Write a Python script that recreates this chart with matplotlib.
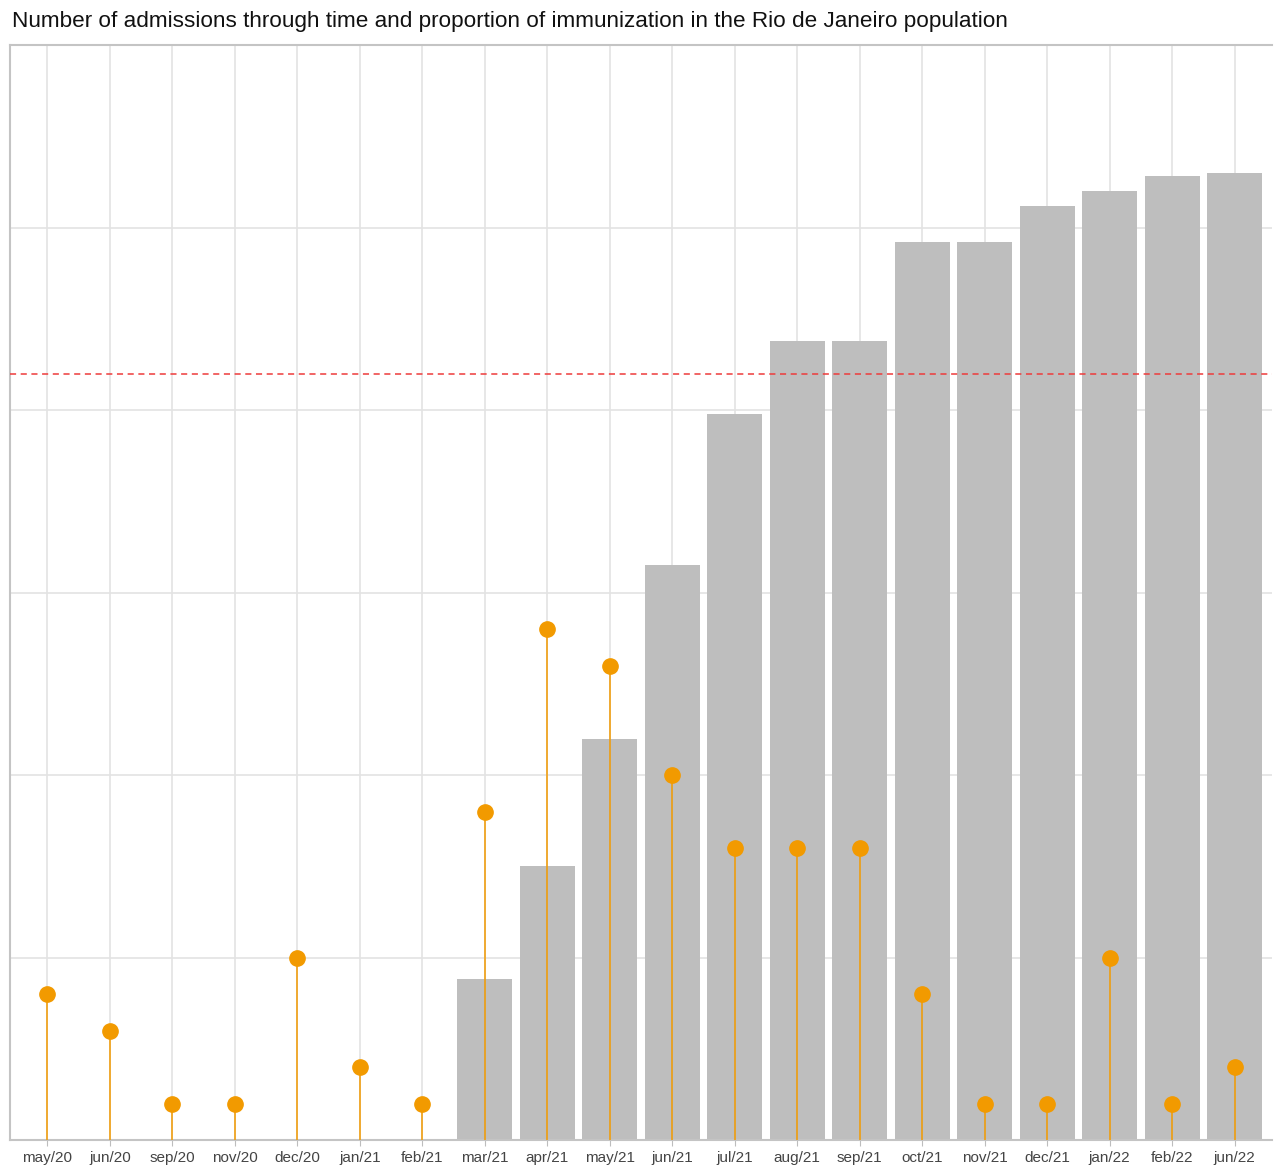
import matplotlib
matplotlib.use('Agg')
import matplotlib.pyplot as plt

# Daten
monate = ['may/20', 'jun/20', 'sep/20', 'nov/20', 'dec/20', 'jan/21', 'feb/21',
          'mar/21', 'apr/21', 'may/21', 'jun/21', 'jul/21', 'aug/21', 'sep/21',
          'oct/21', 'nov/21', 'dec/21', 'jan/22', 'feb/22', 'jun/22']
immunisierung = [0, 0, 0, 0, 0, 0, 0,
                 8.8, 15.0, 22.0, 31.5, 39.8, 43.8, 43.8,
                 49.2, 49.2, 51.2, 52.0, 52.8, 53.0]
aufnahmen = [8, 6, 2, 2, 10, 4, 2,
             18, 28, 26, 20, 16, 16, 16,
             8, 2, 2, 10, 2, 4]
schwelle = 42

plt.rcParams['font.family'] = ['Liberation Sans', 'DejaVu Sans']

fig = plt.figure(figsize=(12.8, 11.68), dpi=100)
ax = fig.add_axes([10 / 1280, 28 / 1168, 1262 / 1280, 1095 / 1168])

x = list(range(len(monate)))

ax.bar(x, immunisierung, width=0.88, color='#BEBEBE', zorder=2)
ax.vlines(x, 0, aufnahmen, color='#F29A00', linewidth=1.1, zorder=3)
ax.plot(x, aufnahmen, 'o', color='#F29A00', markersize=11, zorder=4)
ax.axhline(schwelle, color='#EE3B3B', linestyle=(0, (4, 3)), linewidth=1.1, zorder=3)

ax.set_xlim(-0.6, len(monate) - 0.4)
ax.set_ylim(0, 60)
ax.set_xticks(x)
ax.set_xticklabels(monate, fontsize=11, color='#444444')
ax.set_yticks(range(0, 61, 10))
ax.set_yticklabels([])
ax.tick_params(axis='y', length=0)
ax.tick_params(axis='x', length=4, color='#BDBDBD', pad=4)
ax.grid(True, color='#E3E3E3', linewidth=1.2, zorder=0)
ax.set_axisbelow(True)

for seite in ['left', 'bottom', 'top']:
    ax.spines[seite].set_color('#C4C4C4')
    ax.spines[seite].set_linewidth(1.5)
ax.spines['right'].set_visible(False)

fig.text(12 / 1280, 1 - 22 / 1168,
         'Number of admissions through time and proportion of immunization in the Rio de Janeiro population',
         fontsize=16.2, va='center', ha='left', color='#111111')

plt.savefig('out.png', dpi=100)
plt.close()
